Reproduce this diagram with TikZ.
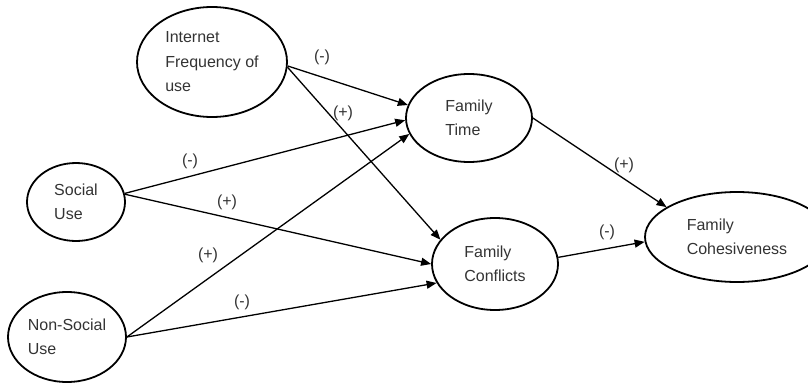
\documentclass[tikz,border=0pt]{standalone}
\usepackage{fontspec}
\setmainfont{Liberation Sans}
\usetikzlibrary{shapes.geometric,arrows.meta}

\begin{document}
\begin{tikzpicture}[
x=1pt, y=-1pt,
ovalnode/.style={ellipse, draw=black, text=black!80, line width=1.8pt, inner sep=0pt, align=left, font=\fontsize{16}{24.5}\selectfont},
signlabel/.style={inner sep=1pt, text=black!80, font=\fontsize{16}{18}\selectfont},
effect/.style={-{Triangle[length=10pt,width=8pt]}, line width=1.3pt},
]
\useasboundingbox (0,0) rectangle (808,385);

%Nodes
\node[ovalnode, minimum width=150pt, minimum height=110pt] (inet)   at (212,62)  {Internet\\Frequency of\\use};
\node[ovalnode, minimum width=98pt,  minimum height=78pt]  (social) at (76,202)  {Social\\Use};
\node[ovalnode, minimum width=118pt, minimum height=90pt]  (nonsoc) at (67,337)  {Non-Social\\Use};
\node[ovalnode, minimum width=126pt, minimum height=88pt]  (ftime)  at (469,118) {Family\\Time};
\node[ovalnode, minimum width=126pt, minimum height=92pt]  (fconf)  at (495,264) {Family\\Conflicts};
\node[ovalnode, minimum width=184pt, minimum height=90pt]  (fcoh)   at (737,237) {Family\\Cohesiveness};

%Lines
\draw[effect] (inet.-3)   -- (ftime.168);
\draw[effect] (inet.-4)   -- (fconf.156);
\draw[effect] (social.10) -- (ftime.182);
\draw[effect] (social.9)  -- (fconf.180);
\draw[effect] (nonsoc.east) -- (ftime.195);
\draw[effect] (nonsoc.east) -- (fconf.198);
\draw[effect] (ftime.east) -- (fcoh.157);
\draw[effect] (fconf.6)    -- (fcoh.183);

%Signs
\node[signlabel] (s1) at (322,57)  {(-)};
\node[signlabel] (s2) at (343,113) {(+)};
\node[signlabel] (s3) at (190,161) {(-)};
\node[signlabel] (s4) at (227,202) {(+)};
\node[signlabel] (s5) at (208,255) {(+)};
\node[signlabel] (s6) at (242,302) {(-)};
\node[signlabel] (s7) at (624,165) {(+)};
\node[signlabel] (s8) at (607,232) {(-)};
\end{tikzpicture}
\end{document}
